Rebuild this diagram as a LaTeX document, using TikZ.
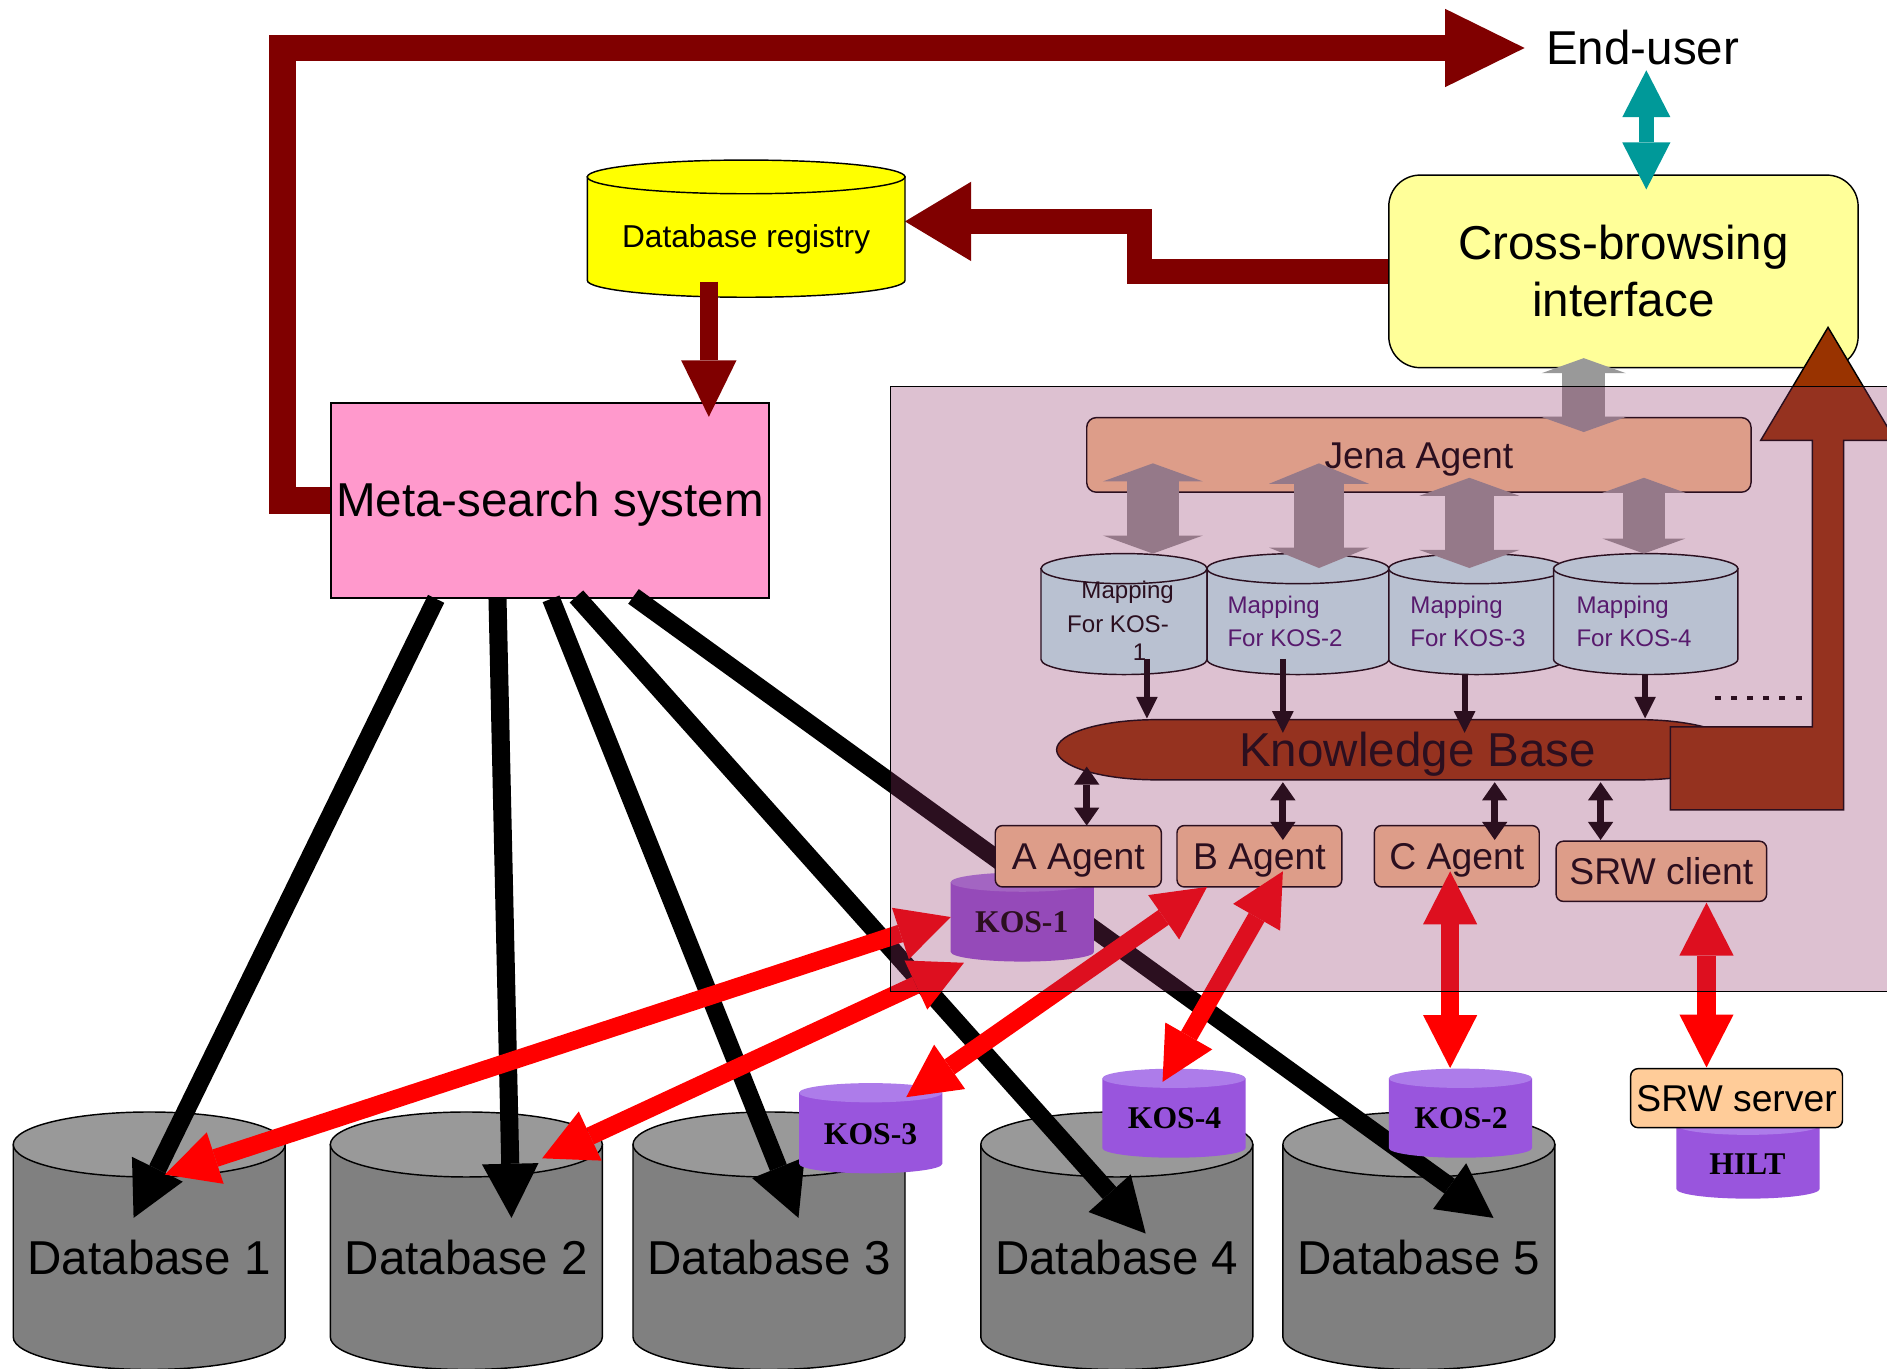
\documentclass[tikz,border=0pt]{standalone}
\usepackage{fontspec}
\setmainfont{Liberation Sans}
\newfontfamily\kosfamily{Liberation Serif}
\usetikzlibrary{arrows.meta}
\pgfdeclarelayer{back}
\pgfsetlayers{back,main}

\definecolor{flowred}{HTML}{800000}
\definecolor{tealarrow}{HTML}{009999}
\definecolor{grayarrow}{HTML}{999999}
\definecolor{kbbrown}{HTML}{993300}
\definecolor{metapink}{HTML}{FF99CC}
\definecolor{paleyellow}{HTML}{FFFF99}
\definecolor{regyellow}{HTML}{FFFF00}
\definecolor{agentfill}{HTML}{FFCC99}
\definecolor{mapfill}{HTML}{CCFFFF}
\definecolor{maptext}{HTML}{401070}
\definecolor{kosbody}{HTML}{9955DD}
\definecolor{kostop}{HTML}{AD7CEA}
\definecolor{dbbody}{HTML}{808080}
\definecolor{dbtop}{HTML}{999999}
\definecolor{panelveil}{HTML}{8F3267}
\definecolor{linkred}{HTML}{FF0000}

% upright cylinder: #1 name, #2 centre x, #3 y of lid centre, #4 y of base centre,
% #5 x radius, #6 y radius, #7 body colour, #8 lid colour, #9 outline style
\newcommand\drawcyl[9]{%
  \path[#9, fill=#7] ({#2-#5},#3) -- ({#2-#5},#4)
     arc[start angle=180, end angle=0, x radius=#5, y radius=#6]
     -- ({#2+#5},#3) -- cycle;
  \path[#9, fill=#8] (#2,#3) ellipse[x radius=#5, y radius=#6];
  \node[inner sep=0pt, outer sep=0pt, minimum width={2*#5},
        minimum height={#4-#3+2*#6}] (#1) at (#2,{(#3+#4)/2}) {};
}

\tikzset{
  rim/.style={draw=black, line width=1.2pt},
  norim/.style={draw=none},
  txt/.style={inner sep=0pt, outer sep=0pt, anchor=base},
  bigfont/.style={font={\fontsize{39.5}{47.5}\selectfont}},
  agentfont/.style={font={\fontsize{31}{37}\selectfont}},
  mapfont/.style={font={\fontsize{20}{24}\selectfont}},
  regfont/.style={font={\fontsize{26.3}{31}\selectfont}},
  kosfont/.style={font={\kosfamily\bfseries\fontsize{26.3}{31}\selectfont}},
  agentbox/.style={rim, fill=agentfill, rounded corners=6pt, inner sep=0pt,
    outer sep=0pt, minimum height=51, text height=22pt, text depth=0pt, agentfont},
  feedback/.style={draw=flowred, line join=miter},
  blackflow/.style={draw=black, line width=15pt,
    arrows={-Triangle[length=45pt,width=47pt,line width=0pt]}},
  redlink/.style={draw=linkred, line width=15pt,
    arrows={Triangle[length=44pt,width=45pt,line width=0pt]-Triangle[length=44pt,width=45pt,line width=0pt]}},
  feed/.style={draw=black, line width=5pt,
    arrows={-Triangle[length=18pt,width=18pt,line width=0pt]}},
  kblink/.style={draw=black, line width=6pt,
    arrows={Triangle[length=15pt,width=21pt,line width=0pt]-Triangle[length=15pt,width=21pt,line width=0pt]}},
  graylink/.style n args={3}{draw=grayarrow, line width=#1,
    arrows={Triangle[length=#2,width=#3,line width=0pt]-Triangle[length=#2,width=#3,line width=0pt]}},
}

\begin{document}
\begin{tikzpicture}[x=1pt,y=-1pt]
\useasboundingbox (0,0) rectangle (1568,1137);
\begin{pgfonlayer}{back}
  \fill[white] (-5,-5) rectangle (1600,1150);
\end{pgfonlayer}

% ---- meta-search side ----
\node[rim, fill=metapink, inner sep=0pt, minimum width=364, minimum height=162,
      text height=27pt, text depth=0pt, bigfont] (meta) at (457,416) {Meta-search system};
\drawcyl{registry}{620}{147}{233}{132}{14}{regyellow}{regyellow}{rim}
\node[txt, regfont] (reglabel) at (620,206) {Database registry};
\node[rim, fill=paleyellow, rounded corners=26pt, inner sep=0pt, minimum width=390,
      minimum height=160, align=center, bigfont] (cross) at (1349,225.5) {Cross-browsing\\interface};
\node[txt, bigfont] (enduser) at (1365,54) {End-user};

\begin{pgfonlayer}{back}
  \draw[feedback, line width=22pt, arrows={-Triangle[length=66pt,width=65pt,line width=0pt]}]
    (meta.west) -- ++(-39.5,0) |- ([xshift=-18pt]enduser.west);
  \draw[feedback, line width=21pt, arrows={-Triangle[length=55pt,width=66pt,line width=0pt]}]
    (cross.west) -- ++(-206.5,0) |- ([yshift=6pt]registry.east);
\end{pgfonlayer}

\draw[draw=flowred, line width=15pt, arrows={-Triangle[length=47pt,width=46pt,line width=0pt]}]
  ([xshift=-31pt,yshift=13pt]registry.south) -- ([xshift=132pt,yshift=-12pt]meta.north);
\draw[draw=tealarrow, line width=13pt,
      arrows={Triangle[length=39pt,width=40pt,line width=0pt]-Triangle[length=39pt,width=40pt,line width=0pt]}]
  ([xshift=3pt,yshift=-4pt]enduser.south) -- ([xshift=19pt,yshift=-12.5pt]cross.north);

% ---- databases ----
\foreach \n/\x in {1/124, 2/387.5, 3/639, 4/928, 5/1179} {
  \drawcyl{db\n}{\x}{951}{1111}{113}{27}{dbbody}{dbtop}{rim}
  \node[txt, bigfont] (dblabel\n) at (\x,1059.4) {Database \n};
}

% ---- queries from the meta-search system ----
\draw[blackflow] ([xshift=88pt]meta.south west) -- ([xshift=-13pt,yshift=-88pt]db1.north);
\draw[blackflow] ([xshift=139pt]meta.south west) -- ([xshift=37.5pt,yshift=-88pt]db2.north);
\draw[blackflow] ([xshift=183.5pt]meta.south west) -- ([xshift=24.5pt,yshift=-88pt]db3.north);
\draw[blackflow] ([xshift=204.6pt,yshift=2pt]meta.south west) -- ([xshift=24pt,yshift=-101pt]db4.north);
\draw[blackflow] ([xshift=252pt,yshift=2pt]meta.south west) -- ([xshift=62pt,yshift=-88pt]db5.north);

% ---- cross-browsing side ----
\node[agentbox, minimum width=552, minimum height=62, rounded corners=8pt] (jena) at (1179,378) {Jena Agent};
\draw[graylink={36pt}{12.5pt}{70pt}]
  ([xshift=-33pt,yshift=8.5pt]cross.south) -- ([xshift=137pt,yshift=-12pt]jena.north);

\drawcyl{map1}{934}{472.5}{548}{69}{12.5}{mapfill}{mapfill}{rim}
\drawcyl{map2}{1078.5}{472.5}{548}{75.5}{12.5}{mapfill}{mapfill}{rim}
\drawcyl{map3}{1227}{472.5}{548}{73}{12.5}{mapfill}{mapfill}{rim}
\drawcyl{map4}{1367.5}{472.5}{548}{76.5}{12.5}{mapfill}{mapfill}{rim}
\node[txt, mapfont] (mapt1) at (937,497) {Mapping};
\node[txt, mapfont] (mapb1) at (929,525.5) {For KOS-};
\node[txt, mapfont] (mapc1) at (947,548.5) {1};
\foreach \i/\x in {2/1020, 3/1172, 4/1310} {
  \node[txt, mapfont, anchor=base west, text=maptext] (mapt\i) at (\x,509.5) {Mapping};
  \node[txt, mapfont, anchor=base west, text=maptext] (mapb\i) at (\x,537.4) {For KOS-\i};
}

\draw[graylink={43pt}{15pt}{83pt}] ([xshift=-221pt,yshift=24pt]jena.south) -- ([xshift=24pt]map1.north);
\draw[graylink={41pt}{17pt}{83pt}] ([xshift=-83pt,yshift=24pt]jena.south) -- ([xshift=17.5pt,yshift=-12pt]map2.north);
\draw[graylink={41pt}{15pt}{83pt}] ([xshift=42pt,yshift=12pt]jena.south) -- ([xshift=-6pt,yshift=-12pt]map3.north);
\draw[graylink={35pt}{12.5pt}{69pt}] ([xshift=187pt,yshift=12pt]jena.south) -- ([xshift=-1.5pt]map4.north);

% knowledge base and its link up to the interface
\path[rim, fill=kbbrown] (961,598) -- (1362,598)
  arc[start angle=-90, end angle=90, x radius=83, y radius=25] -- (961,648)
  arc[start angle=90, end angle=270, x radius=83, y radius=25] -- cycle;
\node[inner sep=0pt, outer sep=0pt, minimum width=567, minimum height=50] (kb) at (1161.5,623) {};
\path[rim, fill=kbbrown] (1388,604) -- (1506,604) -- (1506,366) -- (1463,366) -- (1519,272)
  -- (1575,366) -- (1532,366) -- (1532,673) -- (1388,673) -- cycle;
\node[txt, bigfont] (kblabel) at (1178,637) {Knowledge Base};

\draw[feed] ([xshift=19pt,yshift=13pt]map1.south) -- ([xshift=-208.5pt,yshift=1pt]kb.north);
\draw[feed] ([xshift=-12.5pt,yshift=13pt]map2.south) -- ([xshift=-95.5pt,yshift=-11pt]kb.north);
\draw[feed] ([xshift=-10pt]map3.south) -- ([xshift=55.5pt,yshift=-11pt]kb.north);
\draw[feed] ([xshift=-0.5pt]map4.south) -- ([xshift=205.5pt,yshift=1pt]kb.north);
\draw[line width=4pt, dash pattern=on 5pt off 8.4pt] (1425,580) -- (1497,580);

% ---- KOS stores ----
\drawcyl{kos1}{849.5}{733}{791}{59.5}{8}{kosbody}{kostop}{norim}
\drawcyl{kos3}{723.5}{908}{967}{59.5}{8}{kosbody}{kostop}{norim}
\drawcyl{kos4}{975.5}{896}{954}{59.5}{8}{kosbody}{kostop}{norim}
\drawcyl{kos2}{1213.5}{896}{954}{59.5}{8}{kosbody}{kostop}{norim}
\drawcyl{hilt}{1452.5}{935}{988}{59.5}{8}{kosbody}{kostop}{norim}
\node[txt, kosfont] (kos1label) at (849,774.6) {KOS-1};
\node[txt, kosfont] (kos3label) at (723.4,951) {KOS-3};
\node[txt, kosfont] (kos4label) at (976,937.6) {KOS-4};
\node[txt, kosfont] (kos2label) at (1214,937.6) {KOS-2};
\node[txt, kosfont] (hiltlabel) at (1452,975.6) {HILT};

% ---- agents ----
\node[agentbox, minimum width=138] (agentA) at (896,711.5) {A Agent};
\node[agentbox, minimum width=137] (agentB) at (1046.5,711.5) {B Agent};
\node[agentbox, minimum width=137] (agentC) at (1210.5,711.5) {C Agent};
\node[agentbox, minimum width=175, minimum height=50] (srwc) at (1380.5,724) {SRW client};

\draw[kblink] ([xshift=-258.5pt,yshift=11pt]kb.south) -- ([xshift=7pt]agentA.north);
\draw[kblink] ([xshift=-95.5pt,yshift=-2pt]kb.south) -- ([xshift=19.5pt,yshift=-12pt]agentB.north);
\draw[kblink] ([xshift=80.5pt,yshift=-2pt]kb.south) -- ([xshift=31.5pt,yshift=-12pt]agentC.north);
\draw[kblink] ([xshift=168.5pt,yshift=-2pt]kb.south) -- ([xshift=-50.5pt,yshift=1pt]srwc.north);

\node[agentbox, minimum width=176, minimum height=49] (srws) at (1443,912.5) {SRW server};

% ---- KOS links ----
\draw[redlink] (kos1.west) -- ([xshift=13pt,yshift=-52pt]db1.north);
\draw[redlink] ([xshift=-48.5pt,yshift=-1pt]kos1.south) -- ([xshift=63pt,yshift=-38.5pt]db2.north);
\draw[redlink] ([xshift=-43.5pt]agentB.south) -- ([xshift=29.5pt,yshift=-11.7pt]kos3.north);
\draw[redlink] ([xshift=19.5pt,yshift=13pt]agentB.south) -- ([xshift=-9.5pt,yshift=-11pt]kos4.north);
\draw[redlink] ([xshift=-5.5pt,yshift=13pt]agentC.south) -- ([xshift=-8.5pt,yshift=0.5pt]kos2.north);
\draw[redlink] ([xshift=37.5pt,yshift=-1pt]srwc.south) -- ([xshift=-25pt,yshift=1pt]srws.north);

% ---- tinted panel over the cross-browsing components ----
\path[fill=panelveil, fill opacity=0.3] (740,321) rectangle (1600,824);
\draw[line width=1.2pt] (740,321) rectangle (1600,824);
\end{tikzpicture}
\end{document}
